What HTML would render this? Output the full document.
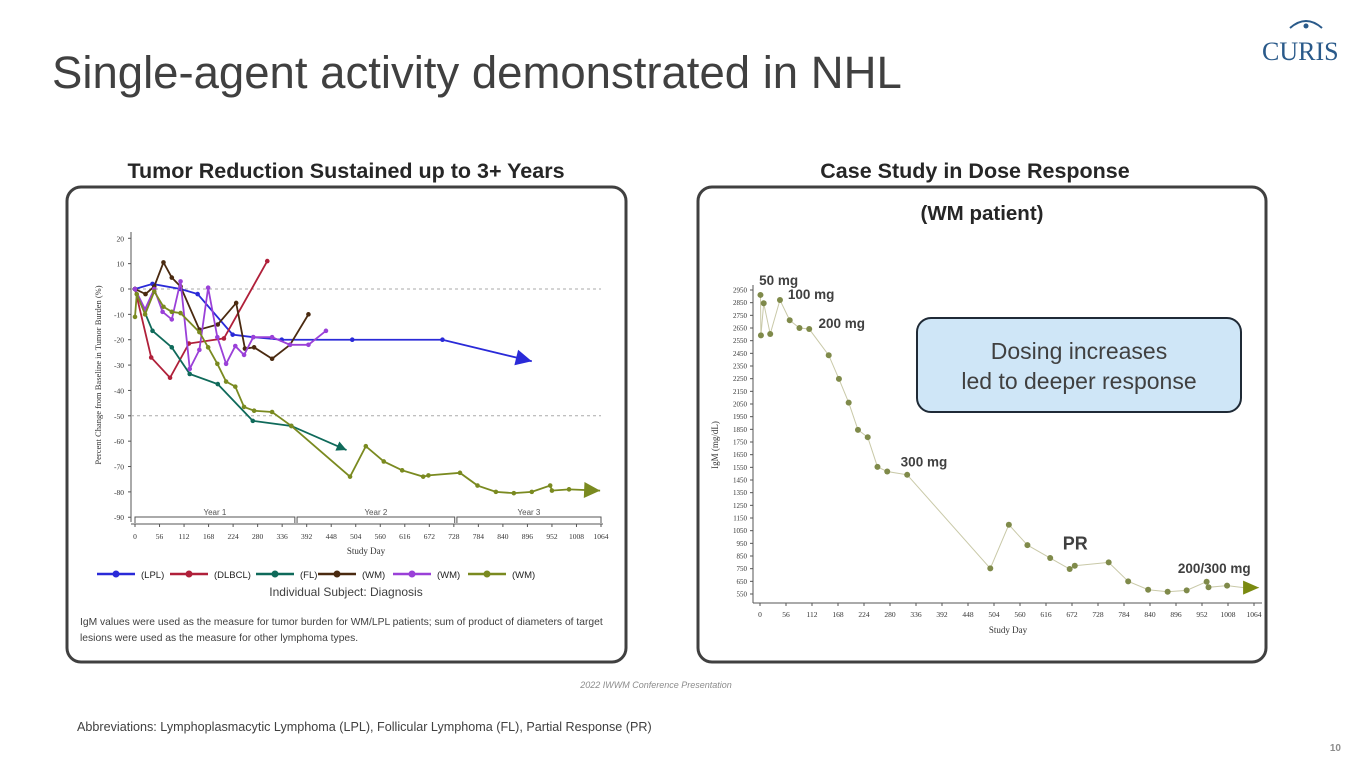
<!DOCTYPE html>
<html><head><meta charset="utf-8"><style>
body{margin:0;width:1365px;height:768px;background:#fff;overflow:hidden;font-family:"Liberation Sans",sans-serif}
svg{position:absolute;left:0;top:0}
</style></head><body>
<svg id="s" width="1365" height="768" xmlns="http://www.w3.org/2000/svg">
<text x="52" y="88" font-size="45.5" fill="#404040">Single-agent activity demonstrated in NHL</text>
<g>
<path d="M1290 28 Q1306 14 1322 28" stroke="#2a5a8a" stroke-width="2" fill="none"/>
<circle cx="1306" cy="26" r="2.5" fill="#2a5a8a"/>
<text x="1262" y="60" font-family="Liberation Serif,serif" font-size="26" fill="#2a5a8a">CURIS</text>
</g>
<text x="346" y="178" text-anchor="middle" font-size="21.5" font-weight="bold" fill="#262626">Tumor Reduction Sustained up to 3+ Years</text>
<text x="975" y="178" text-anchor="middle" font-size="21.5" font-weight="bold" fill="#262626">Case Study in Dose Response</text>
<rect x="67" y="187" width="559" height="475" rx="14" fill="#fff" stroke="#404040" stroke-width="3"/>
<rect x="698" y="187" width="568" height="475" rx="14" fill="#fff" stroke="#404040" stroke-width="3"/>
<text x="982" y="220" text-anchor="middle" font-size="20.5" font-weight="bold" fill="#262626">(WM patient)</text>
<g id="L"></g>
<g id="R"></g>
<rect x="917" y="318" width="324" height="94" rx="14" fill="#cfe6f7" stroke="#1f2a36" stroke-width="2"/>
<text x="1079" y="359" text-anchor="middle" font-size="23" fill="#404040">Dosing increases</text>
<text x="1079" y="389" text-anchor="middle" font-size="23" fill="#404040">led to deeper response</text>
<text x="346" y="596" text-anchor="middle" font-size="12" fill="#404040">Individual Subject: Diagnosis</text>
<text x="80" y="625" font-size="10.3" fill="#404040">IgM values were used as the measure for tumor burden for WM/LPL patients; sum of product of diameters of target</text>
<text x="80" y="641" font-size="10.3" fill="#404040">lesions were used as the measure for other lymphoma types.</text>
<text x="656" y="688" text-anchor="middle" font-size="9" font-style="italic" fill="#8c8c8c">2022 IWWM Conference Presentation</text>
<text x="77" y="731" font-size="12.6" fill="#404040">Abbreviations: Lymphoplasmacytic Lymphoma (LPL), Follicular Lymphoma (FL), Partial Response (PR)</text>
<text x="1341" y="751" text-anchor="end" font-size="10" font-weight="bold" fill="#8c8c8c">10</text>
</svg>
<script>
const dayTicks=[0,56,112,168,224,280,336,392,448,504,560,616,672,728,784,840,896,952,1008,1064];
const pctTicks=[20,10,0,-10,-20,-30,-40,-50,-60,-70,-80,-90];
const seriesNames=["(LPL)","(DLBCL)","(FL)","(WM)","(WM)","(WM)"];
const seriesColors=["#2a2ad8","#b0203a","#0f6a5a","#4a2a10","#9a40d8","#7a8a20"];
const lplDays=[0,40,104,143,223,270,335,496,702,906];
const lplVals=[0,2,0,-2,-18,-19,-20,-20,-20,-28.5];
const dlbclDays=[0,37,80,123,203,302];
const dlbclVals=[0,-27,-35,-21.5,-19.5,11];
const flDays=[0,40,84,125,189,269,357,483];
const flVals=[0,-16.5,-23,-33.5,-37.5,-52,-54,-63.5];
const wm1Days=[0,24,44,65,84,104,147,189,231,251,272,313,354,396];
const wm1Vals=[0,-2,1,10.5,4.5,1,-16,-14,-5.5,-23.5,-23,-27.5,-22,-10];
const wm2Days=[0,23,44,63,84,104,125,147,167,188,208,229,249,270,313,354,396,436];
const wm2Vals=[0,-8,0,-9,-12,3,-31.5,-24,0.5,-19,-29.5,-22.5,-26,-19,-19,-22,-22,-16.5];
const wm3Days=[0,4,23,44,65,84,104,147,167,188,208,229,249,272,313,357,491,527,568,610,658,670,742,782,824,865,906,948,952,991,1062];
const wm3Vals=[-11,-2,-10,-1,-7,-9,-9.5,-17,-23,-29.5,-36.5,-38.5,-46.5,-48,-48.5,-54,-74,-62,-68,-71.5,-74,-73.5,-72.5,-77.5,-80,-80.5,-80,-77.5,-79.5,-79,-79.5];
const igmTicks=[2950,2850,2750,2650,2550,2450,2350,2250,2150,2050,1950,1850,1750,1650,1550,1450,1350,1250,1150,1050,950,850,750,650,550];
const igmDays=[1,2,8,22,43,64,85,106,148,170,191,211,232,253,274,317,496,536,576,625,667,678,751,793,836,878,919,962,966,1006,1048,1075];
const igmVals=[2911,2592,2845,2603,2871,2711,2650,2642,2435,2248,2061,1846,1788,1554,1517,1491,752,1097,936,834,747,773,800,650,584,568,579,647,603,616,597,600];
const doseLabels=["50 mg","100 mg","200 mg","300 mg","PR","200/300 mg"];
const doseDays=[-2,60,126,303,652,900];
const doseVals=[2990,2880,2650,1555,900,715];

const NS="http://www.w3.org/2000/svg";
function mk(p,t,a){const e=document.createElementNS(NS,t);for(const k in a)e.setAttribute(k,a[k]);p.appendChild(e);return e;}
const L=document.getElementById('L'),R=document.getElementById('R');
const lx=d=>135+d*466/1064, ly=v=>289-v*2.536;
const rx=d=>760+d*494/1064, ry=v=>290+(2950-v)*0.12667;
const serif='Liberation Serif,serif';
let a=mk(L,'line',{x1:131,y1:232,x2:131,y2:522,stroke:'#555'});

pctTicks.forEach(v=>{mk(L,'line',{x1:128,x2:131,y1:ly(v),y2:ly(v),stroke:'#555'});
 const t=mk(L,'text',{x:124,y:ly(v)+3,'text-anchor':'end','font-size':7.5,'font-family':serif,fill:'#333'});t.textContent=v;
 });
[0,-50].forEach(v=>mk(L,'line',{x1:131,x2:601,y1:ly(v),y2:ly(v),stroke:'#aaa','stroke-dasharray':'3,3'}));
dayTicks.forEach(d=>{mk(L,'line',{x1:lx(d),x2:lx(d),y1:524,y2:527,stroke:'#555'});
 const t=mk(L,'text',{x:lx(d),y:539,'text-anchor':'middle','font-size':7.5,'font-family':serif,fill:'#333'});t.textContent=d;
 });
mk(L,'line',{x1:131,x2:603,y1:524,y2:524,stroke:'#555'});
[[0,365,'Year 1'],[370,730,'Year 2'],[735,1064,'Year 3']].forEach(y=>{
 mk(L,'path',{d:`M${lx(y[0])} 523 v-6 H${lx(y[1])} v6`,stroke:'#555',fill:'none'});
 const t=mk(L,'text',{x:(lx(y[0])+lx(y[1]))/2,y:515,'text-anchor':'middle','font-size':8,fill:'#555'});t.textContent=y[2];
 });
let t=mk(L,'text',{x:366,y:554,'text-anchor':'middle','font-size':9,'font-family':serif,fill:'#333'});t.textContent='Study Day';

t=mk(L,'text',{x:0,y:0,transform:'translate(101,375) rotate(-90)','text-anchor':'middle','font-size':8.5,'font-family':serif,fill:'#333'});t.textContent='Percent Change from Baseline in Tumor Burden (%)';

const LD=[lplDays,dlbclDays,flDays,wm1Days,wm2Days,wm3Days],LV=[lplVals,dlbclVals,flVals,wm1Vals,wm2Vals,wm3Vals];
const arrows=[true,false,true,false,false,true];
LD.forEach((ds,i)=>{const c=seriesColors[i];const vs=LV[i];
 const n=arrows[i]?ds.length-1:ds.length;
 const pl=mk(L,'polyline',{points:ds.map((d,j)=>lx(d)+','+ly(vs[j])).join(' '),fill:'none',stroke:c,'stroke-width':1.8});
 
 for(let j=0;j<n;j++){const p=mk(L,'circle',{cx:lx(ds[j]),cy:ly(vs[j]),r:2.3,fill:c});
  }
 if(arrows[i]){const k=ds.length-1;const x2=lx(ds[k]),y2=ly(vs[k]),x1=lx(ds[k-1]),y1=ly(vs[k-1]);
  const ang=Math.atan2(y2-y1,x2-x1)*180/Math.PI;const s=i==2?5:8;
  const ar=mk(L,'path',{d:`M0 0 L${-2*s} ${-s} L${-2*s} ${s} Z`,fill:c,transform:`translate(${x2},${y2}) rotate(${ang})`});
  }
});
let lxp=97;
seriesNames.forEach((n,i)=>{const g=mk(L,'g',{});
 
 mk(g,'line',{x1:lxp,x2:lxp+38,y1:574,y2:574,stroke:seriesColors[i],'stroke-width':2.5});
 mk(g,'circle',{cx:lxp+19,cy:574,r:3.5,fill:seriesColors[i]});
 const tt=mk(g,'text',{x:lxp+44,y:578,'font-size':9.5,fill:'#222'});tt.textContent=n;
 lxp+=[73,86,62,75,75,75][i];});
mk(R,'line',{x1:753,y1:285,x2:753,y2:603,stroke:'#555'});
mk(R,'line',{x1:753,y1:603,x2:1262,y2:603,stroke:'#555'});
igmTicks.forEach(v=>{mk(R,'line',{x1:750,x2:753,y1:ry(v),y2:ry(v),stroke:'#555'});
 const tt=mk(R,'text',{x:747,y:ry(v)+2.5,'text-anchor':'end','font-size':7,'font-family':serif,fill:'#333'});tt.textContent=v;
 });
dayTicks.forEach(d=>{mk(R,'line',{x1:rx(d),x2:rx(d),y1:603,y2:606,stroke:'#555'});
 const tt=mk(R,'text',{x:rx(d),y:617,'text-anchor':'middle','font-size':7.5,'font-family':serif,fill:'#333'});tt.textContent=d;
 });
t=mk(R,'text',{x:1008,y:633,'text-anchor':'middle','font-size':9,'font-family':serif,fill:'#333'});t.textContent='Study Day';

t=mk(R,'text',{x:0,y:0,transform:'translate(718,445) rotate(-90)','text-anchor':'middle','font-size':9,'font-family':serif,fill:'#333'});t.textContent='IgM (mg/dL)';

const pl=mk(R,'polyline',{points:igmDays.map((d,j)=>rx(d)+','+ry(igmVals[j])).join(' '),fill:'none',stroke:'#c9c9a8','stroke-width':1});

for(let j=0;j<igmDays.length-1;j++){const p=mk(R,'circle',{cx:rx(igmDays[j]),cy:ry(igmVals[j]),r:3,fill:'#7f8a4a'});
 }
{const k=igmDays.length-1;const x2=rx(igmDays[k]),y2=ry(igmVals[k]);
 const ar=mk(R,'path',{d:`M${x2} ${y2} l-16 -7 v14 z`,fill:'#7a8a10'});
 }
doseLabels.forEach((s,i)=>{const tt=mk(R,'text',{x:rx(doseDays[i]),y:ry(doseVals[i]),'font-size':i==4?18:13.5,'font-weight':'bold',fill:'#404040'});tt.textContent=s;
 });
</script>
</body></html>
